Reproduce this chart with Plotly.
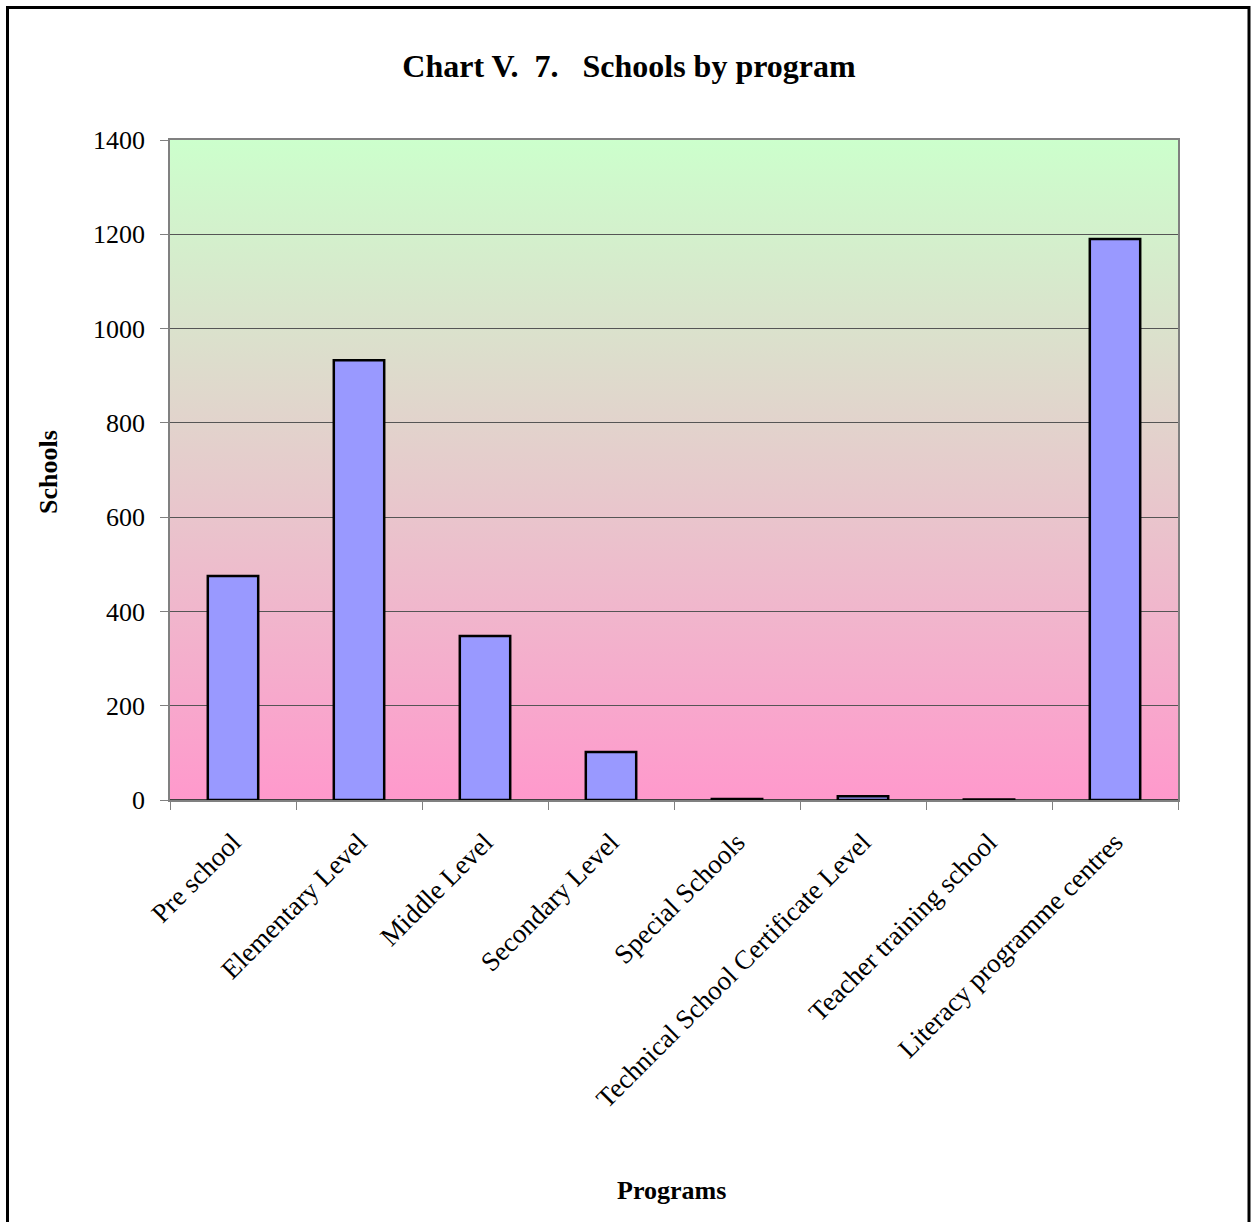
import base64
import plotly.graph_objects as go

categories = ["Pre school", "Elementary Level", "Middle Level", "Secondary Level",
              "Special Schools", "Technical School Certificate Level",
              "Teacher training school", "Literacy programme centres"]
schools = [475, 933, 348, 102, 2, 8, 1, 1190]
y_ticks = [0, 200, 400, 600, 800, 1000, 1200, 1400]

W, H = 1251, 1222
L, R, T, B = 170, 1178, 140, 800

fig = go.Figure()
fig.add_trace(go.Bar(
    x=categories, y=schools,
    marker=dict(color="#9999FF", line=dict(color="black", width=2.5)),
    width=0.4,
))

# gradient background of plot area (SVG image)
svg = ('<svg xmlns="http://www.w3.org/2000/svg" width="100" height="100" preserveAspectRatio="none">'
       '<defs><linearGradient id="g" x1="0" y1="0" x2="0" y2="1">'
       '<stop offset="0" stop-color="#CCFFCC"/><stop offset="1" stop-color="#FF99CC"/>'
       '</linearGradient></defs><rect width="100" height="100" fill="url(#g)"/></svg>')
src = "data:image/svg+xml;base64," + base64.b64encode(svg.encode()).decode()
fig.add_layout_image(dict(source=src, xref="paper", yref="paper", x=0, y=1,
                          sizex=1, sizey=1, sizing="stretch", xanchor="left",
                          yanchor="top", layer="below"))

def px_x(p):
    return (p - L) / (R - L)

def px_y(p):
    return (B - p) / (B - T)

fig.add_shape(type="rect", xref="paper", yref="paper",
              x0=px_x(7.5), x1=px_x(1249), y0=px_y(7.5), y1=px_y(1240),
              line=dict(color="black", width=3), fillcolor="rgba(0,0,0,0)",
              layer="above")

font = "Liberation Serif, Times New Roman, serif"
fig.update_layout(
    width=W, height=H,
    margin=dict(l=L, r=W - R, t=T, b=H - B),
    paper_bgcolor="white",
    plot_bgcolor="rgba(0,0,0,0)",
    showlegend=False,
    font=dict(family=font, color="black", size=20),
    title=dict(text="<b>Chart V.  7.   Schools by program</b>", x=px_x(629), xanchor="center",
               xref="paper", y=1 - 66 / H, yanchor="middle",
               font=dict(family=font, size=32, color="black")),
    bargap=0.6,
)
fig.update_xaxes(
    tickangle=-45, tickson="boundaries", ticks="outside", ticklen=8,
    tickcolor="#808080", showline=True, linecolor="#808080", linewidth=1.5,
    mirror=True, showgrid=False, ticklabelstandoff=14,
    tickfont=dict(family=font, size=27),
)
fig.update_yaxes(
    range=[0, 1400], tickvals=y_ticks, ticks="outside", ticklen=8,
    tickcolor="#808080", showline=True, linecolor="#808080", linewidth=1.5,
    mirror=True, showgrid=True, gridcolor="#555555", gridwidth=1,
    zeroline=True, zerolinecolor="#404040", zerolinewidth=1.5,
    ticklabelstandoff=10,
    tickfont=dict(family=font, size=26),
)
fig.add_annotation(text="<b>Programs</b>", xref="paper", yref="paper",
                   x=px_x(671), y=px_y(1190), showarrow=False,
                   xanchor="center", yanchor="middle",
                   font=dict(family=font, size=26))
fig.add_annotation(text="<b>Schools</b>", xref="paper", yref="paper",
                   x=px_x(48), y=px_y(472), showarrow=False, textangle=-90,
                   xanchor="center", yanchor="middle",
                   font=dict(family=font, size=26))
fig.write_html("out.html", config={"displayModeBar": False},
               post_script="document.body.style.margin='0';document.body.style.overflow='hidden';")
